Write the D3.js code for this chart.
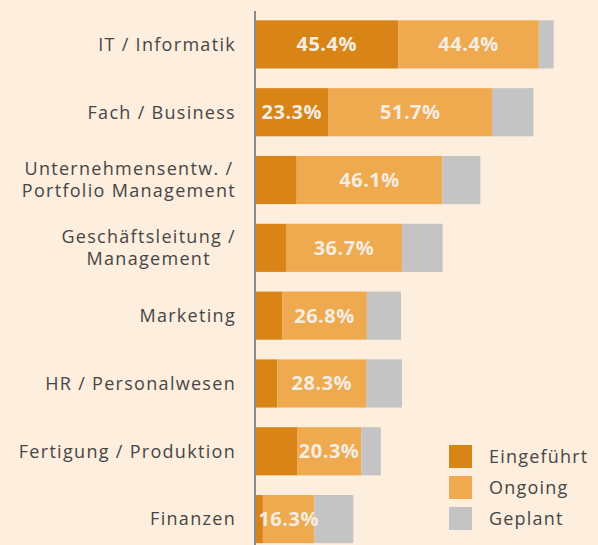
<!DOCTYPE html>
<html>
<head>
<meta charset="utf-8">
<script src="https://cdn.jsdelivr.net/npm/d3@7"></script>
<style>
  body { margin: 0; background: #fdeedd; }
  svg { display: block; }
  .cat { font-family: "Open Sans", sans-serif; font-size: 18px; letter-spacing: 1.3px; fill: #464646; }
  .val { font-family: "Open Sans", sans-serif; font-size: 20px; font-weight: bold; letter-spacing: 0.5px; fill: #f4ede3; }
  .leg { font-family: "Open Sans", sans-serif; font-size: 18px; letter-spacing: 1.2px; fill: #464646; }
</style>
</head>
<body>
<svg id="chart"></svg>
<script>
let width = 598,
    height = 545;

// categories, top to bottom (multi-line labels split with "|")
let categories = [
    "IT / Informatik",
    "Fach / Business",
    "Unternehmensentw. /|Portfolio Management",
    "Geschäftsleitung /|Management",
    "Marketing",
    "HR / Personalwesen",
    "Fertigung / Produktion",
    "Finanzen"
];

let eingefuehrt = [45.4, 23.3, 13.2, 9.8, 8.6, 7.0, 13.3, 2.5];
let ongoing     = [44.4, 51.7, 46.1, 36.7, 26.8, 28.3, 20.3, 16.3];
let geplant     = [4.7, 13.1, 12.0, 12.9, 10.8, 11.2, 6.2, 12.3];

let seriesNames = ["Eingeführt", "Ongoing", "Geplant"];
let colors = ["#d98416", "#efaa4f", "#c4c4c4"];

// only labels that are printed in the original
let showLabel = [
    [true, true, false],
    [true, true, false],
    [false, true, false],
    [false, true, false],
    [false, true, false],
    [false, true, false],
    [false, true, false],
    [false, true, false]
];

let svg = d3.select('#chart')
    .attr('width', width)
    .attr('height', height);

let x = d3.scaleLinear()
    .domain([0, 100])
    .range([255, 571]);

let y = d3.scaleBand()
    .domain(categories)
    .range([10.5, 553])
    .paddingInner(0.29)
    .paddingOuter(0.145);

let color = d3.scaleOrdinal()
    .domain(seriesNames)
    .range(colors);

// build stack data
let table = categories.map(function(c, i) {
    return { cat: c, "Eingeführt": eingefuehrt[i], "Ongoing": ongoing[i], "Geplant": geplant[i], idx: i };
});
let stack = d3.stack().keys(seriesNames)(table);

let layers = svg.selectAll('g.layer')
    .data(stack)
    .enter()
    .append('g')
    .attr('class', 'layer')
    .style('fill', function(d) { return color(d.key); });

layers.selectAll('rect')
    .data(function(d) { return d; })
    .enter()
    .append('rect')
    .attr('x', function(d) { return x(d[0]); })
    .attr('y', function(d) { return y(d.data.cat); })
    .attr('width', function(d) { return x(d[1]) - x(d[0]); })
    .attr('height', y.bandwidth());

// value labels
stack.forEach(function(layer, k) {
    svg.append('g')
        .selectAll('text')
        .data(layer.filter(function(d) { return showLabel[d.data.idx][k]; }))
        .enter()
        .append('text')
        .attr('class', 'val')
        .attr('x', function(d) { return (x(d[0]) + x(d[1])) / 2; })
        .attr('y', function(d) { return y(d.data.cat) + y.bandwidth() / 2; })
        .attr('dy', '.35em')
        .attr('text-anchor', 'middle')
        .text(function(d) { return d.data[layer.key].toFixed(1) + '%'; });
});

// axis line
svg.append('line')
    .attr('x1', 255).attr('x2', 255)
    .attr('y1', 11).attr('y2', height)
    .style('stroke', '#8c8c8c')
    .style('stroke-width', 2);

// category labels
categories.forEach(function(c) {
    let lines = c.split('|');
    let g = svg.append('g');
    let lh = 22;
    let cy = y(c) + y.bandwidth() / 2;
    let texts = lines.map(function(l, j) {
        return g.append('text')
            .attr('class', 'cat')
            .attr('y', cy + (j - (lines.length - 1) / 2) * lh)
            .attr('dy', '.35em')
            .attr('text-anchor', 'middle')
            .text(l);
    });
    let maxW = d3.max(texts, function(t) { return t.node().getComputedTextLength(); });
    texts.forEach(function(t) { t.attr('x', 236 - maxW / 2); });
});

// legend
let legend = svg.selectAll('g.legend')
    .data(seriesNames)
    .enter()
    .append('g')
    .attr('class', 'legend')
    .attr('transform', function(d, i) { return 'translate(449,' + (445 + i * 31) + ')'; });

legend.append('rect')
    .attr('width', 23)
    .attr('height', 23)
    .style('fill', color);

legend.append('text')
    .attr('class', 'leg')
    .attr('x', 40)
    .attr('y', 11.5)
    .attr('dy', '.35em')
    .text(function(d) { return d; });
</script>
</body>
</html>
